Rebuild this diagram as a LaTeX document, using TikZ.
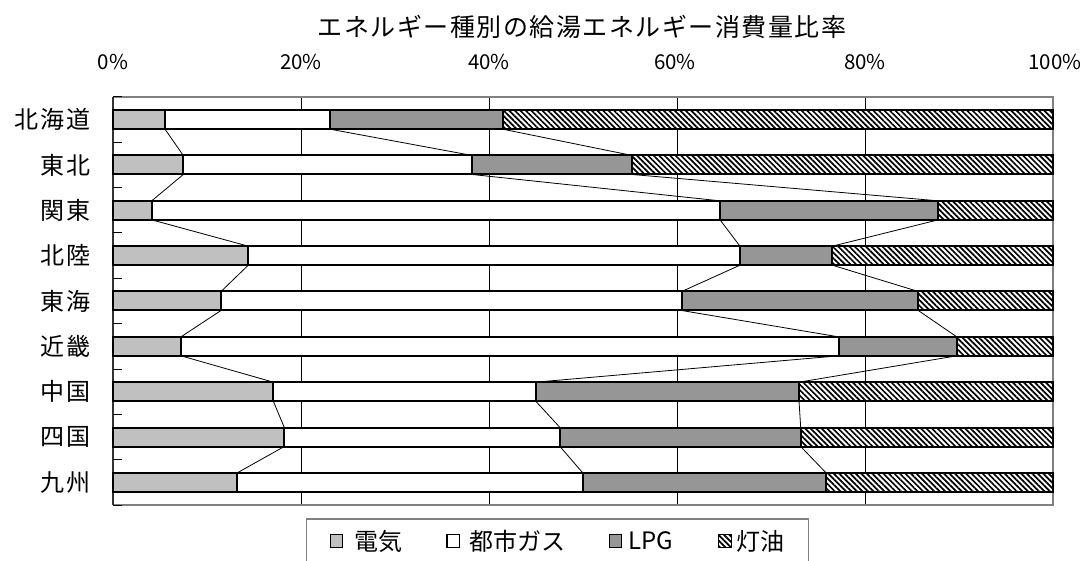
\documentclass[tikz,border=0pt]{standalone}
\usepackage{fontspec}
\setmainfont{Noto Sans CJK JP}
\newfontfamily\cjkspaced[LetterSpace=6]{Noto Sans CJK JP}
\newfontfamily\cjkcat[LetterSpace=8]{Noto Sans CJK JP}
\usetikzlibrary{patterns.meta}
\definecolor{elec}{HTML}{C0C0C0}
\definecolor{lpg}{HTML}{969696}
\definecolor{frame}{HTML}{808080}
\begin{document}
\begin{tikzpicture}[x=1pt,y=-1pt,
  bar/.style={draw=black, line width=2pt},
  gridl/.style={draw=black, line width=1pt},
  serl/.style={draw=black, line width=0.8pt},
  hatch/.style={pattern={Lines[angle=-45, distance=3.9pt, line width=1.7pt]}, pattern color=black},
  catlab/.style={anchor=east, inner sep=0pt, font=\cjkcat\fontsize{24}{24}\selectfont},
  pctlab/.style={inner sep=0pt, font=\fontsize{20.5}{20.5}\selectfont},
  legtxt/.style={anchor=west, inner sep=0pt, font=\fontsize{24}{24}\selectfont},
  legsq/.style={draw=black, line width=1.2pt, minimum size=12.5pt, inner sep=0pt}
]
\useasboundingbox (0,0) rectangle (1083,561);
% title
\node[inner sep=0pt, font=\cjkspaced\fontsize{25}{25}\selectfont] (title) at (582,27) {エネルギー種別の給湯エネルギー消費量比率};
% percent labels and grid
\foreach \p/\x in {0/113,20/301,40/489,60/675,80/865,100/1055} {
  \node[pctlab] (pct\p) at (\x,62) {\p\%};
}
\foreach \x in {301,489,677,865} {
  \draw[gridl] (\x,97) -- (\x,505);
}
% plot frame
\draw[draw=frame, line width=1.5pt] (113,97) -- (1053,97) -- (1053,505) -- (113,505);
\draw[draw=black!80, line width=1.5pt] (113,97) -- (113,505);
\foreach \k in {0,...,9} {
  \pgfmathsetmacro\yt{97+45.333*\k}
  \draw[line width=1pt] (113,\yt) -- (122,\yt);
}
% rows: coordinates
\foreach \i/\a/\b/\c in {1/165/330/502.7, 2/183.3/472.3/632.3, 3/151.7/720/938.3,
    4/248.3/740/832.3, 5/221/681.7/918.3, 6/181/838.5/956.7, 7/273.3/535.7/799,
    8/284.3/560/800.7, 9/237.3/582.7/826} {
  \pgfmathsetmacro\yc{97+45.333*(\i-0.5)}
  \coordinate (t\i a) at (\a,\yc-9.5);
  \coordinate (t\i b) at (\b,\yc-9.5);
  \coordinate (t\i c) at (\c,\yc-9.5);
  \coordinate (b\i a) at (\a,\yc+9.5);
  \coordinate (b\i b) at (\b,\yc+9.5);
  \coordinate (b\i c) at (\c,\yc+9.5);
}
% series lines
\foreach \i in {1,...,8} {
  \pgfmathtruncatemacro\j{\i+1}
  \draw[serl] (b\i a) -- (t\j a);
  \draw[serl] (b\i b) -- (t\j b);
  \draw[serl] (b\i c) -- (t\j c);
}
% bars
\foreach \i/\lab/\a/\b/\c in {1/北海道/165/330/502.7, 2/東北/183.3/472.3/632.3, 3/関東/151.7/720/938.3,
    4/北陸/248.3/740/832.3, 5/東海/221/681.7/918.3, 6/近畿/181/838.5/956.7, 7/中国/273.3/535.7/799,
    8/四国/284.3/560/800.7, 9/九州/237.3/582.7/826} {
  \pgfmathsetmacro\yc{97+45.333*(\i-0.5)}
  \fill[white] (\c,\yc-9.5) rectangle (1053,\yc+9.5);
  \fill[hatch] (\c,\yc-9.5) rectangle (1053,\yc+9.5);
  \draw[bar] (\c,\yc-9.5) rectangle (1053,\yc+9.5);
  \draw[bar, fill=lpg] (\b,\yc-9.5) rectangle (\c,\yc+9.5);
  \draw[bar, fill=white] (\a,\yc-9.5) rectangle (\b,\yc+9.5);
  \draw[bar, fill=elec] (113,\yc-9.5) rectangle (\a,\yc+9.5);
  \node[catlab] (cat\i) at (91,\yc) {\lab};
}
% legend
\draw[draw=frame, line width=1.5pt] (306.7,561) -- (306.7,519) -- (808.3,519) -- (808.3,561);
\node[legsq, fill=elec] (sq1) at (336.5,541) {};
\node[legtxt] (lt1) at (354,541) {電気};
\node[legsq, fill=white] (sq2) at (453.3,541) {};
\node[legtxt] (lt2) at (469,541) {都市ガス};
\node[legsq, fill=lpg] (sq3) at (615.5,541) {};
\node[legtxt] (lt3) at (628,541) {LPG};
\node[legsq, fill=white] (sq4) at (725,541) {};
\fill[hatch] (sq4.south west) rectangle (sq4.north east);
\draw[line width=1.2pt] (sq4.south west) rectangle (sq4.north east);
\node[legtxt] (lt4) at (736,541) {灯油};
\end{tikzpicture}
\end{document}
